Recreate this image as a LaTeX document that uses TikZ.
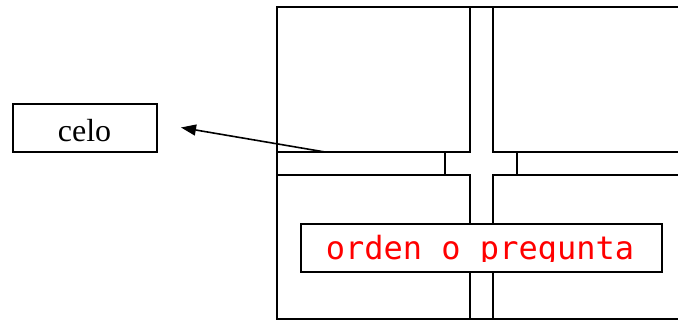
\documentclass[tikz,border=0pt]{standalone}
\usepackage{fontspec}
\setmainfont{Liberation Serif}
\newfontfamily\monofnt{DejaVu Sans Mono}
\usetikzlibrary{arrows.meta}
\begin{document}
\begin{tikzpicture}[x=1pt,y=-1pt,
  wall/.style={draw=black,line width=2pt},
  lbl/.style={draw=black,line width=2pt,fill=white,inner sep=0pt},
  conn/.style={draw=black,line width=1.6pt,-{Triangle[length=15pt,width=11pt]}}]
\useasboundingbox (0,0) rectangle (678,320);
% outer frame lines
\draw[wall] (678,7.5) -- (277,7.5) -- (277,319) -- (678,319);
% top-left block
\draw[wall] (469.5,7.5) -- (469.5,152) -- (277,152);
% top-right block
\draw[wall] (493,7.5) -- (493,152) -- (678,152);
% bottom blocks
\draw[wall] (277,175) -- (469.5,175) -- (469.5,319);
\draw[wall] (678,175) -- (493,175) -- (493,319);
% small cross lines in road
\draw[wall] (445,152) -- (445,175);
\draw[wall] (517,152) -- (517,175);
% label boxes
\node[lbl,minimum width=144pt,minimum height=48pt] (celo) at (85,128) {};
\begin{scope}
\clip (14,105) rectangle (156,142);
\node[anchor=base,inner sep=0pt,font=\fontsize{32}{32}\selectfont] (celotxt) at (84.5,142) {celo};
\end{scope}
\node[lbl,minimum width=361pt,minimum height=48pt] (orden) at (481.5,248) {};
\begin{scope}
\clip (303,226) rectangle (660,262);
\node[anchor=base,inner sep=0pt,text=red,font=\monofnt\fontsize{32}{32}\selectfont] (ordentxt) at (480,260) {orden o pregunta};
\end{scope}
% arrow
\coordinate (start) at (325,152);
\coordinate (tip) at (181,127.5);
\draw[conn] (start) -- (tip);
\end{tikzpicture}
\end{document}
